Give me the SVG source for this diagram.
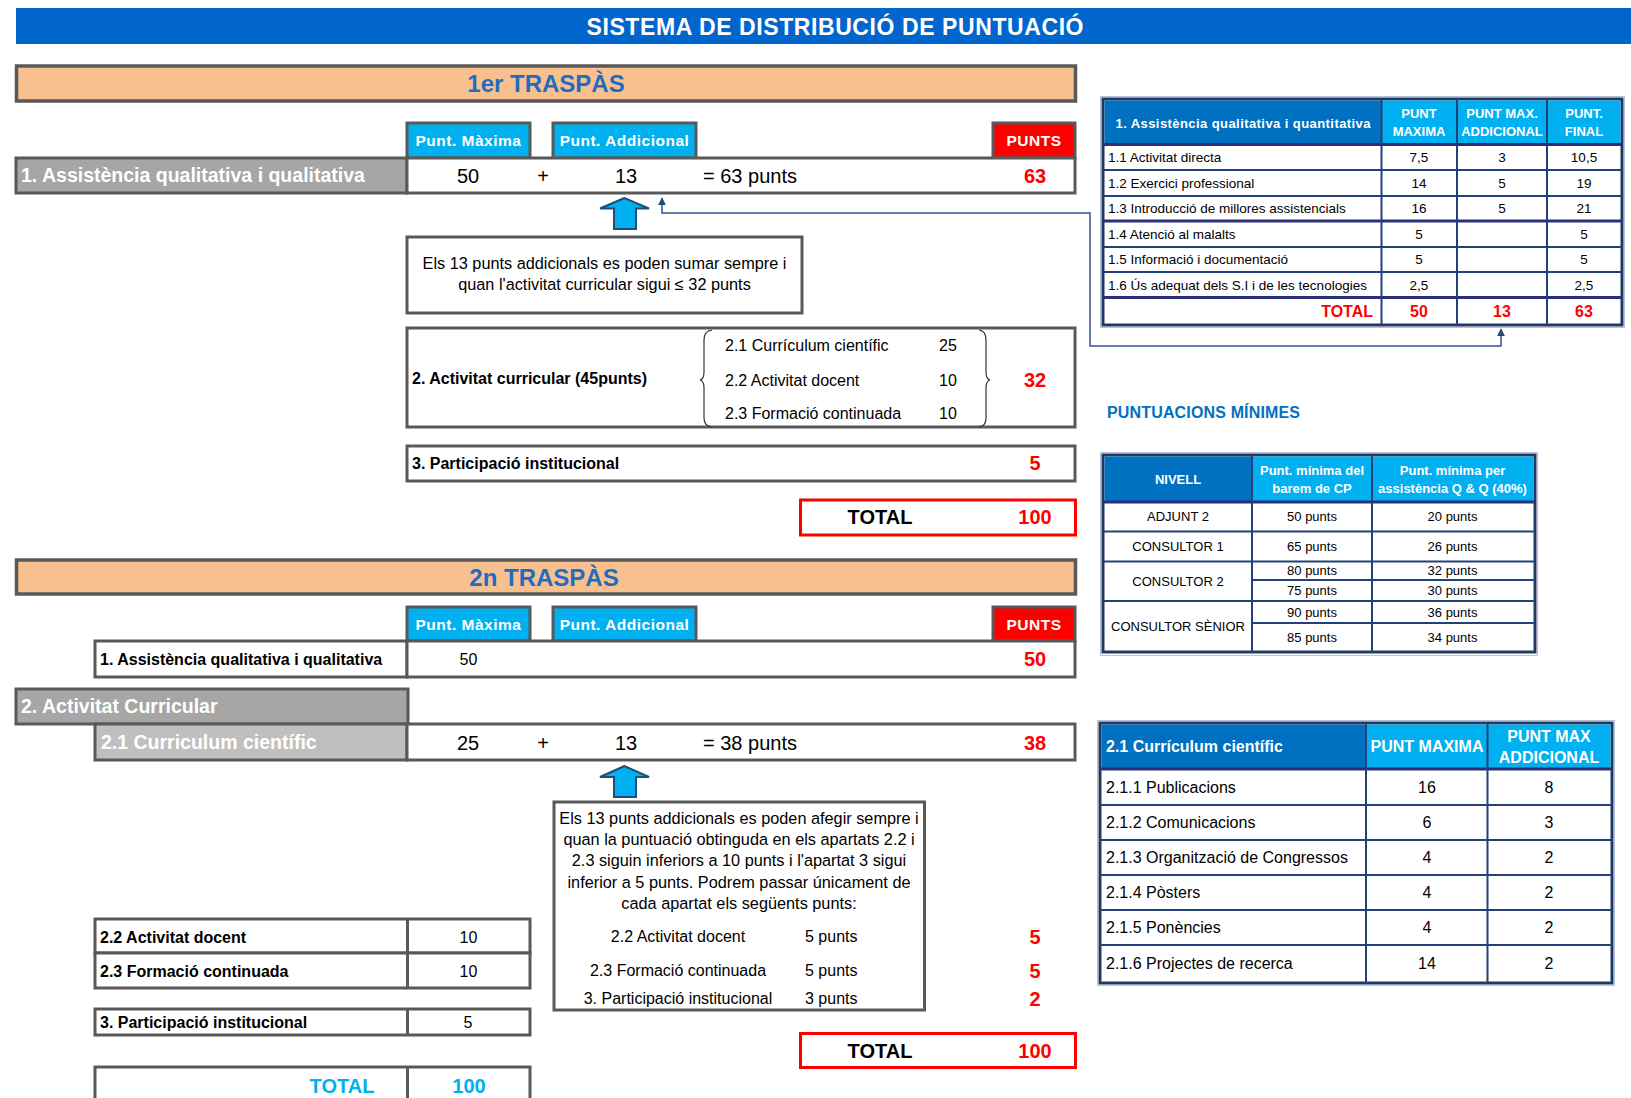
<svg xmlns="http://www.w3.org/2000/svg" width="1631" height="1098" viewBox="0 0 1631 1098">
<style>
text{font-family:"Liberation Sans",Arial,sans-serif;}
.box{stroke:#595959;stroke-width:3;fill:#fff;}
.peach{fill:#F9C08F;stroke:#595959;stroke-width:3.5;}
.sec{font-size:24px;font-weight:bold;fill:#1F6DC0;text-anchor:middle;}
.hdr{fill:#00B0F0;stroke:#595959;stroke-width:3;}
.hdrred{fill:#FF0000;stroke:#595959;stroke-width:3;}
.hdt{font-size:15.5px;font-weight:bold;fill:#fff;text-anchor:middle;letter-spacing:0.5px;}
.gray{fill:#A6A6A6;stroke:#595959;stroke-width:3;}
.lgray{fill:#BFBFBF;stroke:#595959;stroke-width:3;}
.wlab{font-size:19.5px;font-weight:bold;fill:#fff;}
.val{font-size:20px;fill:#000;text-anchor:middle;}
.vals{font-size:20px;fill:#000;}
.red{font-size:20px;font-weight:bold;fill:#FF0000;text-anchor:middle;}
.t16{font-size:16px;fill:#000;}
.t16c{font-size:16px;fill:#000;text-anchor:middle;}
.n16{font-size:16.3px;fill:#000;text-anchor:middle;}
.b16{font-size:16px;font-weight:bold;fill:#000;}
.tot{font-size:20px;font-weight:bold;fill:#000;text-anchor:middle;}
.cyt{font-size:20px;font-weight:bold;fill:#00B0F0;text-anchor:middle;}
.redbox{fill:#fff;stroke:#FF0000;stroke-width:3;}
.barrow{fill:#00B0F0;stroke:#1F4E79;stroke-width:2;}
.conn{fill:none;stroke:#2F5496;stroke-width:1.5;}
.brace{fill:none;stroke:#333;stroke-width:1.2;}
.tbl{fill:#fff;stroke:#1F3864;stroke-width:3;}
.tshadow{fill:none;stroke:#B4C3D6;stroke-width:1;}
.thb{fill:#0070C0;}
.thc{fill:#00B0F0;}
.tl{stroke:#22407A;stroke-width:2;}
.tlk{stroke:#2B2F7A;stroke-width:3;}
.tw{font-size:13px;font-weight:bold;fill:#fff;text-anchor:middle;}
.td{font-size:13.5px;fill:#000;}
.tdc{font-size:13px;fill:#000;text-anchor:middle;}
.tdc1{font-size:13.5px;fill:#000;text-anchor:middle;}
.tr{font-size:16px;font-weight:bold;fill:#FF0000;text-anchor:middle;}
.tw16{font-size:16px;font-weight:bold;fill:#fff;}
.tw16c{font-size:16px;font-weight:bold;fill:#fff;text-anchor:middle;}
</style>
<defs>
<marker id="ah" viewBox="0 0 10 10" refX="9" refY="5" markerWidth="8" markerHeight="8" markerUnits="userSpaceOnUse" orient="auto-start-reverse">
<path d="M0,0 L10,5 L0,10 z" fill="#1F4E79"/>
</marker>
</defs>

<g id="title">
<rect x="16" y="8" width="1615" height="36" fill="#0066CC"/>
<text x="835" y="34.5" font-size="23" font-weight="bold" fill="#fff" text-anchor="middle" textLength="497">SISTEMA DE DISTRIBUCIÓ DE PUNTUACIÓ</text>
</g>

<g id="connectors">
<path class="conn" d="M662,198 V213 H1090 V346 H1501 V329" marker-start="url(#ah)" marker-end="url(#ah)"/>
</g>

<!-- 1er TRASPAS -->
<g id="sec1-title">
<rect class="peach" x="16.5" y="66" width="1059" height="35"/>
<text class="sec" x="546" y="92">1er TRASPÀS</text>
</g>

<g id="sec1-headers">
<rect class="hdr" x="407" y="123" width="123" height="35"/>
<text class="hdt" x="468.5" y="146">Punt. Màxima</text>
<rect class="hdr" x="553" y="123" width="143" height="35"/>
<text class="hdt" x="624.5" y="146">Punt. Addicional</text>
<rect class="hdrred" x="993" y="123" width="82" height="35"/>
<text class="hdt" x="1034" y="146">PUNTS</text>
</g>

<g id="sec1-row1">
<rect class="gray" x="16" y="158" width="391" height="35"/>
<text class="wlab" x="21" y="182">1. Assistència qualitativa i qualitativa</text>
<rect class="box" x="407" y="158" width="668" height="35"/>
<text class="val" x="468" y="182.5">50</text>
<text class="val" x="543" y="182.5">+</text>
<text class="val" x="626" y="182.5">13</text>
<text class="vals" x="703" y="182.5">= 63 punts</text>
<text class="red" x="1035" y="183">63</text>
</g>

<g id="sec1-arrow">
<polygon class="barrow" points="624.5,198 600,208.5 614,208.5 614,229 636,229 636,208.5 649,208.5"/>
</g>

<g id="sec1-note">
<rect class="box" x="407" y="237" width="395" height="76"/>
<text class="n16" x="604.5" y="268.5">Els 13 punts addicionals es poden sumar sempre i</text>
<text class="n16" x="604.5" y="289.5">quan l'activitat curricular sigui ≤ 32 punts</text>
</g>

<g id="sec1-row2">
<rect class="box" x="407" y="328" width="668" height="99"/>
<text class="b16" x="412" y="384">2. Activitat curricular (45punts)</text>
<path class="brace" d="M712,330 Q704,331 704,340 V372 Q704,379 700,380 Q704,381 704,388 V418 Q704,426 712,427"/>
<path class="brace" d="M979,330 Q986,331 986,340 V372 Q986,379 990,380 Q986,381 986,388 V418 Q986,426 979,427"/>
<text class="t16" x="725" y="351">2.1 Currículum científic</text>
<text class="t16" x="725" y="386">2.2 Activitat docent</text>
<text class="t16" x="725" y="419">2.3 Formació continuada</text>
<text class="t16c" x="948" y="351">25</text>
<text class="t16c" x="948" y="386">10</text>
<text class="t16c" x="948" y="419">10</text>
<text class="red" x="1035" y="387">32</text>
</g>

<g id="sec1-row3">
<rect class="box" x="407" y="446" width="668" height="35"/>
<text class="b16" x="412" y="469">3. Participació institucional</text>
<text class="red" x="1035" y="470">5</text>
</g>

<g id="sec1-total">
<rect class="redbox" x="800.5" y="500" width="275" height="35"/>
<text class="tot" x="880" y="524">TOTAL</text>
<text class="red" x="1035" y="524">100</text>
</g>

<!-- 2n TRASPAS -->
<g id="sec2-title">
<rect class="peach" x="16.5" y="560" width="1059" height="34"/>
<text class="sec" x="544" y="585.5">2n TRASPÀS</text>
</g>

<g id="sec2-headers">
<rect class="hdr" x="407" y="607" width="123" height="34"/>
<text class="hdt" x="468.5" y="629.5">Punt. Màxima</text>
<rect class="hdr" x="553" y="607" width="143" height="34"/>
<text class="hdt" x="624.5" y="629.5">Punt. Addicional</text>
<rect class="hdrred" x="993" y="607" width="82" height="34"/>
<text class="hdt" x="1034" y="629.5">PUNTS</text>
</g>

<g id="sec2-row1">
<rect class="box" x="95" y="641" width="312" height="36"/>
<text class="b16" x="100" y="665" font-size="16.5">1. Assistència qualitativa i qualitativa</text>
<rect class="box" x="407" y="641" width="668" height="36"/>
<text class="t16c" x="468.5" y="665">50</text>
<text class="red" x="1035" y="666">50</text>
</g>

<g id="sec2-row2">
<rect class="gray" x="16" y="689" width="392" height="35"/>
<text class="wlab" x="21" y="713">2. Activitat Curricular</text>
</g>

<g id="sec2-row21">
<rect class="lgray" x="95" y="724" width="312" height="36"/>
<text class="wlab" x="101" y="749">2.1 Curriculum científic</text>
<rect class="box" x="407" y="724" width="668" height="36"/>
<text class="val" x="468" y="750">25</text>
<text class="val" x="543" y="750">+</text>
<text class="val" x="626" y="750">13</text>
<text class="vals" x="703" y="750">= 38 punts</text>
<text class="red" x="1035" y="750">38</text>
</g>

<g id="sec2-arrow">
<polygon class="barrow" points="624.5,766 600,777 614,777 614,797 636,797 636,777 649,777"/>
</g>

<g id="sec2-note">
<rect class="box" x="554" y="802" width="370.5" height="208"/>
<text class="n16" x="739" y="823.6">Els 13 punts addicionals es poden afegir sempre i</text>
<text class="n16" x="739" y="844.6">quan la puntuació obtinguda en els apartats 2.2 i</text>
<text class="n16" x="739" y="865.6">2.3 siguin inferiors a 10 punts i l'apartat 3 sigui</text>
<text class="n16" x="739" y="887.6">inferior a 5 punts. Podrem passar únicament de</text>
<text class="n16" x="739" y="908.6">cada apartat els següents punts:</text>
<text class="t16c" x="678" y="941.6">2.2 Activitat docent</text>
<text class="t16" x="805" y="941.6">5 punts</text>
<text class="t16c" x="678" y="975.6">2.3 Formació continuada</text>
<text class="t16" x="805" y="975.6">5 punts</text>
<text class="t16c" x="678" y="1003.6">3. Participació institucional</text>
<text class="t16" x="805" y="1003.6">3 punts</text>
</g>

<g id="sec2-extra">
<text class="red" x="1035" y="944">5</text>
<text class="red" x="1035" y="978">5</text>
<text class="red" x="1035" y="1006">2</text>
</g>

<g id="sec2-left22">
<rect class="box" x="95" y="919" width="435" height="34"/>
<line x1="407.5" y1="919" x2="407.5" y2="953" stroke="#595959" stroke-width="3"/>
<text class="b16" x="100" y="942.6">2.2 Activitat docent</text>
<text class="t16c" x="468.5" y="942.6">10</text>
</g>
<g id="sec2-left23">
<rect class="box" x="95" y="953" width="435" height="35"/>
<line x1="407.5" y1="953" x2="407.5" y2="988" stroke="#595959" stroke-width="3"/>
<text class="b16" x="100" y="976.6">2.3 Formació continuada</text>
<text class="t16c" x="468.5" y="976.6">10</text>
</g>
<g id="sec2-left3">
<rect class="box" x="95" y="1009" width="435" height="26"/>
<line x1="407.5" y1="1009" x2="407.5" y2="1036" stroke="#595959" stroke-width="3"/>
<text class="b16" x="100" y="1027.6">3. Participació institucional</text>
<text class="t16c" x="468" y="1027.6">5</text>
</g>
<g id="sec2-lefttotal">
<path d="M95,1100 V1067 H530 V1100 M407.5,1067 V1100" fill="none" stroke="#595959" stroke-width="3"/>
<text class="cyt" x="342" y="1093">TOTAL</text>
<text class="cyt" x="469" y="1093">100</text>
</g>

<g id="sec2-total">
<rect class="redbox" x="800.5" y="1033.5" width="275" height="34"/>
<text class="tot" x="880" y="1058">TOTAL</text>
<text class="red" x="1035" y="1058">100</text>
</g>

<!-- Table 1 -->
<g id="table1">
<rect class="tshadow" x="1100.5" y="96.5" width="524" height="231"/>
<rect class="tbl" x="1103" y="99" width="519" height="226"/>
<rect class="thb" x="1104.5" y="100.5" width="277" height="44"/>
<rect class="thc" x="1381.5" y="100.5" width="75.5" height="44"/>
<rect class="thc" x="1457" y="100.5" width="90" height="44"/>
<rect class="thc" x="1547" y="100.5" width="73.5" height="44"/>
<line class="tlk" x1="1103" y1="144.5" x2="1622" y2="144.5"/>
<line class="tl" x1="1103" y1="170" x2="1622" y2="170"/>
<line class="tl" x1="1103" y1="196" x2="1622" y2="196"/>
<line class="tlk" x1="1103" y1="221" x2="1622" y2="221"/>
<line class="tl" x1="1103" y1="247" x2="1622" y2="247"/>
<line class="tl" x1="1103" y1="272" x2="1622" y2="272"/>
<line class="tlk" x1="1103" y1="297.5" x2="1622" y2="297.5"/>
<line class="tl" x1="1381.5" y1="99" x2="1381.5" y2="325"/>
<line class="tl" x1="1457" y1="99" x2="1457" y2="325"/>
<line class="tl" x1="1547" y1="99" x2="1547" y2="325"/>
<text class="tw" x="1243" y="127.5" textLength="255">1. Assistència qualitativa i quantitativa</text>
<text class="tw" x="1419" y="117.5">PUNT</text>
<text class="tw" x="1419" y="135.5">MAXIMA</text>
<text class="tw" x="1502" y="117.5">PUNT MAX.</text>
<text class="tw" x="1502" y="135.5">ADDICIONAL</text>
<text class="tw" x="1584" y="117.5">PUNT.</text>
<text class="tw" x="1584" y="135.5">FINAL</text>
<text class="td" x="1108" y="162">1.1 Activitat directa</text>
<text class="tdc1" x="1419" y="162">7,5</text>
<text class="tdc1" x="1502" y="162">3</text>
<text class="tdc1" x="1584" y="162">10,5</text>
<text class="td" x="1108" y="187.5">1.2 Exercici professional</text>
<text class="tdc1" x="1419" y="187.5">14</text>
<text class="tdc1" x="1502" y="187.5">5</text>
<text class="tdc1" x="1584" y="187.5">19</text>
<text class="td" x="1108" y="213">1.3 Introducció de millores assistencials</text>
<text class="tdc1" x="1419" y="213">16</text>
<text class="tdc1" x="1502" y="213">5</text>
<text class="tdc1" x="1584" y="213">21</text>
<text class="td" x="1108" y="238.5">1.4 Atenció al malalts</text>
<text class="tdc1" x="1419" y="238.5">5</text>
<text class="tdc1" x="1584" y="238.5">5</text>
<text class="td" x="1108" y="264">1.5 Informació i documentació</text>
<text class="tdc1" x="1419" y="264">5</text>
<text class="tdc1" x="1584" y="264">5</text>
<text class="td" x="1108" y="289.5">1.6 Ús adequat dels S.I i de les tecnologies</text>
<text class="tdc1" x="1419" y="289.5">2,5</text>
<text class="tdc1" x="1584" y="289.5">2,5</text>
<text class="tr" x="1373" y="316.5" style="text-anchor:end">TOTAL</text>
<text class="tr" x="1419" y="316.5">50</text>
<text class="tr" x="1502" y="316.5">13</text>
<text class="tr" x="1584" y="316.5">63</text>
</g>

<g id="minimes-title">
<text x="1107" y="418" font-size="16" font-weight="bold" fill="#0070C0" textLength="193">PUNTUACIONS MÍNIMES</text>
</g>

<!-- Table 2 -->
<g id="table2">
<rect class="tshadow" x="1100.5" y="452.5" width="437" height="203"/>
<rect class="tbl" x="1103" y="455" width="432" height="197"/>
<rect class="thb" x="1104.5" y="456.5" width="147.5" height="45.5"/>
<rect class="thc" x="1252" y="456.5" width="120" height="45.5"/>
<rect class="thc" x="1372" y="456.5" width="161.5" height="45.5"/>
<line class="tlk" x1="1103" y1="502" x2="1535" y2="502"/>
<line class="tl" x1="1103" y1="531.5" x2="1535" y2="531.5"/>
<line class="tl" x1="1103" y1="561.5" x2="1535" y2="561.5"/>
<line class="tl" x1="1252" y1="580" x2="1535" y2="580"/>
<line class="tl" x1="1103" y1="601" x2="1535" y2="601"/>
<line class="tl" x1="1252" y1="623" x2="1535" y2="623"/>
<line class="tl" x1="1252" y1="455" x2="1252" y2="652"/>
<line class="tl" x1="1372" y1="455" x2="1372" y2="652"/>
<text class="tw" x="1178" y="483.5">NIVELL</text>
<text class="tw" x="1312" y="474.5">Punt. mínima del</text>
<text class="tw" x="1312" y="492.5">barem de CP</text>
<text class="tw" x="1452.5" y="474.5">Punt. mínima per</text>
<text class="tw" x="1452.5" y="492.5">assistència Q &amp; Q (40%)</text>
<text class="tdc" x="1178" y="521">ADJUNT 2</text>
<text class="tdc" x="1178" y="551">CONSULTOR 1</text>
<text class="tdc" x="1178" y="585.5">CONSULTOR 2</text>
<text class="tdc" x="1178" y="630.5">CONSULTOR SÈNIOR</text>
<text class="tdc" x="1312" y="521">50 punts</text>
<text class="tdc" x="1312" y="551">65 punts</text>
<text class="tdc" x="1312" y="575">80 punts</text>
<text class="tdc" x="1312" y="595">75 punts</text>
<text class="tdc" x="1312" y="616.5">90 punts</text>
<text class="tdc" x="1312" y="641.5">85 punts</text>
<text class="tdc" x="1452.5" y="521">20 punts</text>
<text class="tdc" x="1452.5" y="551">26 punts</text>
<text class="tdc" x="1452.5" y="575">32 punts</text>
<text class="tdc" x="1452.5" y="595">30 punts</text>
<text class="tdc" x="1452.5" y="616.5">36 punts</text>
<text class="tdc" x="1452.5" y="641.5">34 punts</text>
</g>

<!-- Table 3 -->
<g id="table3">
<rect class="tshadow" x="1097.5" y="720.5" width="517" height="265"/>
<rect class="tbl" x="1100" y="723" width="512" height="260"/>
<rect class="thb" x="1101.5" y="724.5" width="264.5" height="44.5"/>
<rect class="thc" x="1366" y="724.5" width="121.5" height="44.5"/>
<rect class="thc" x="1487.5" y="724.5" width="123" height="44.5"/>
<line class="tlk" x1="1100" y1="769" x2="1612" y2="769"/>
<line class="tl" x1="1100" y1="805" x2="1612" y2="805"/>
<line class="tl" x1="1100" y1="840" x2="1612" y2="840"/>
<line class="tl" x1="1100" y1="875" x2="1612" y2="875"/>
<line class="tl" x1="1100" y1="910" x2="1612" y2="910"/>
<line class="tl" x1="1100" y1="945" x2="1612" y2="945"/>
<line class="tl" x1="1366" y1="723" x2="1366" y2="983"/>
<line class="tl" x1="1487.5" y1="723" x2="1487.5" y2="983"/>
<text class="tw16" x="1106" y="751.7">2.1 Currículum científic</text>
<text class="tw16c" x="1427" y="751.7">PUNT MAXIMA</text>
<text class="tw16c" x="1549" y="741.7">PUNT MAX</text>
<text class="tw16c" x="1549" y="762.7">ADDICIONAL</text>
<text class="t16" x="1106" y="792.7">2.1.1 Publicacions</text>
<text class="t16c" x="1427" y="792.7">16</text>
<text class="t16c" x="1549" y="792.7">8</text>
<text class="t16" x="1106" y="828.2">2.1.2 Comunicacions</text>
<text class="t16c" x="1427" y="828.2">6</text>
<text class="t16c" x="1549" y="828.2">3</text>
<text class="t16" x="1106" y="863.2">2.1.3 Organització de Congressos</text>
<text class="t16c" x="1427" y="863.2">4</text>
<text class="t16c" x="1549" y="863.2">2</text>
<text class="t16" x="1106" y="898.2">2.1.4 Pòsters</text>
<text class="t16c" x="1427" y="898.2">4</text>
<text class="t16c" x="1549" y="898.2">2</text>
<text class="t16" x="1106" y="933.2">2.1.5 Ponències</text>
<text class="t16c" x="1427" y="933.2">4</text>
<text class="t16c" x="1549" y="933.2">2</text>
<text class="t16" x="1106" y="969.2">2.1.6 Projectes de recerca</text>
<text class="t16c" x="1427" y="969.2">14</text>
<text class="t16c" x="1549" y="969.2">2</text>
</g>
</svg>
